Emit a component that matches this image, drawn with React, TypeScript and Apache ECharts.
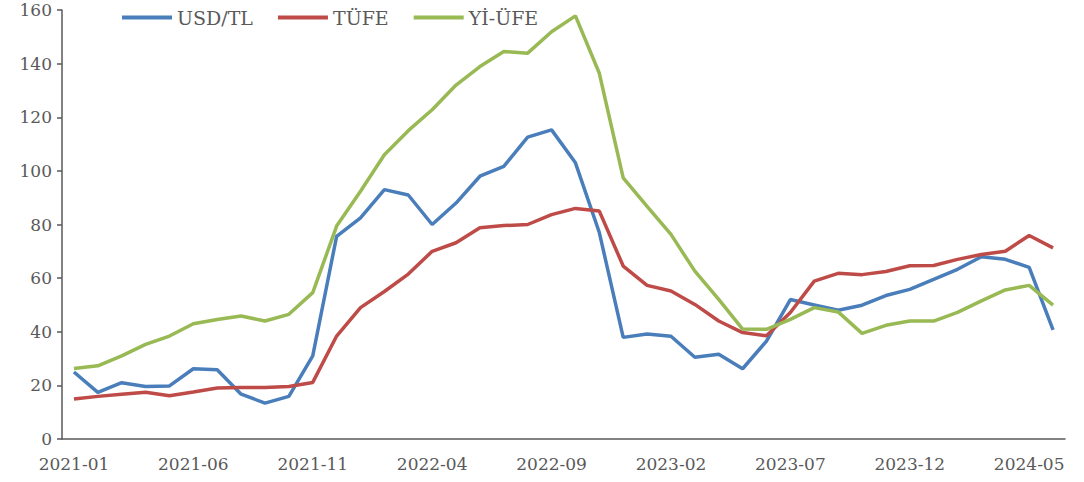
import React, { useEffect, useRef } from "react";
import * as echarts from "echarts";

const months: string[] = [
  "2021-01","2021-02","2021-03","2021-04","2021-05","2021-06","2021-07","2021-08","2021-09","2021-10","2021-11","2021-12",
  "2022-01","2022-02","2022-03","2022-04","2022-05","2022-06","2022-07","2022-08","2022-09","2022-10","2022-11","2022-12",
  "2023-01","2023-02","2023-03","2023-04","2023-05","2023-06","2023-07","2023-08","2023-09","2023-10","2023-11","2023-12",
  "2024-01","2024-02","2024-03","2024-04","2024-05","2024-06",
];

const usdTl: number[] = [
  25, 17.4, 21, 19.6, 19.8, 26.2, 25.8, 16.7, 13.4, 15.9, 31, 75.6,
  82.5, 93, 91, 80, 88, 98, 101.7, 112.6, 115.3, 103, 77, 37.9,
  39.2, 38.3, 30.5, 31.6, 26.2, 36.5, 52, 50, 48, 49.9, 53.5, 55.8,
  59.5, 63.3, 68, 67, 64, 40.7,
];

const tufe: number[] = [
  14.9, 15.9, 16.7, 17.4, 16.1, 17.5, 19, 19.2, 19.2, 19.6, 21.1, 38.4,
  49, 55, 61.5, 70, 73.2, 78.8, 79.6, 80, 83.7, 86, 85, 64.5,
  57.3, 55.2, 50.2, 44, 39.7, 38.5, 47.2, 58.9, 61.8, 61.3, 62.5, 64.6,
  64.7, 67, 68.8, 70, 75.9, 71.3,
];

const yiUfe: number[] = [
  26.3, 27.3, 31, 35.3, 38.4, 43, 44.6, 45.9, 44, 46.5, 54.6, 79.4,
  92.4, 106, 115, 122.8, 132, 138.9, 144.5, 143.9, 151.9, 157.8, 136.4, 97.4,
  86.8, 76.3, 62.6, 52.1, 41, 40.9, 44.6, 49, 47.4, 39.4, 42.4, 44,
  44, 47.2, 51.5, 55.6, 57.3, 49.9,
];

const seriesNames: string[] = ["USD/TL", "TÜFE", "Yİ-ÜFE"];
const seriesColors: string[] = ["#4A7EBB", "#BE4B48", "#98B954"];

export default function App() {
  const ref = useRef<HTMLDivElement>(null);
  useEffect(() => {
    if (!ref.current) return;
    const chart = echarts.init(ref.current, undefined, { renderer: "svg" });
    const font = "DejaVu Serif";
    const data = [usdTl, tufe, yiUfe];
    chart.setOption({
      animation: false,
      backgroundColor: "#ffffff",
      grid: { left: 62, right: 19, top: 10, bottom: 43, containLabel: false },
      legend: {
        left: 117,
        top: 3,
        itemWidth: 50,
        itemHeight: 4,
        itemGap: 25,
        icon: "rect",
        textStyle: { fontFamily: font, fontSize: 19, color: "#595959" },
        data: seriesNames,
      },
      xAxis: {
        type: "category",
        data: months,
        boundaryGap: true,
        axisLine: { lineStyle: { color: "#595959", width: 1.5 } },
        axisTick: { interval: 4, length: 5, lineStyle: { color: "#595959", width: 1.5 } },
        axisLabel: {
          interval: 4,
          fontFamily: font,
          fontSize: 17,
          color: "#595959",
          margin: 16,
        },
        splitLine: { show: false },
      },
      yAxis: {
        type: "value",
        min: 0,
        max: 160,
        interval: 20,
        axisLine: { show: true, lineStyle: { color: "#595959", width: 1.5 } },
        axisTick: { show: true, length: 5, lineStyle: { color: "#595959", width: 1.5 } },
        axisLabel: { fontFamily: font, fontSize: 17, color: "#595959", margin: 10 },
        splitLine: { show: false },
      },
      series: seriesNames.map((name, k) => ({
        name,
        type: "line",
        data: data[k],
        showSymbol: false,
        symbol: "none",
        smooth: false,
        lineStyle: { color: seriesColors[k], width: 3.5 },
        itemStyle: { color: seriesColors[k] },
      })),
    });
    return () => chart.dispose();
  }, []);
  return (
    <div
      ref={ref}
      style={{ position: "fixed", left: 0, top: 0, width: 1084, height: 482 }}
    />
  );
}
